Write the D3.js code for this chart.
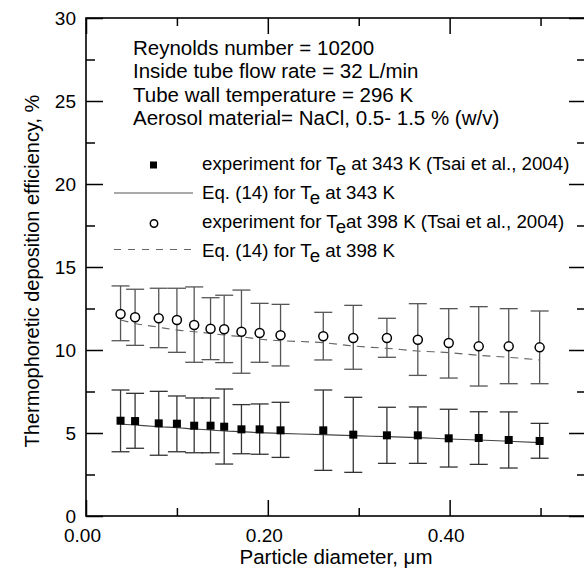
<!DOCTYPE html>
<html>
<head>
<meta charset="utf-8">
<script src="https://cdn.jsdelivr.net/npm/d3@7"></script>
<style>
  body { margin: 0; background: #fff; }
  svg { font-family: "Liberation Sans", Arial, sans-serif; }
</style>
</head>
<body>
<div id="chart"></div>
<script>
// particle diameter (um) for each measurement
var diameters = [0.038, 0.054, 0.080, 0.100, 0.119, 0.137, 0.152, 0.171, 0.191,
                 0.214, 0.261, 0.294, 0.331, 0.365, 0.399, 0.432, 0.465, 0.499];

// experiment, Te = 343 K (mean, upper, lower)
var exp343 = [5.74, 5.72, 5.58, 5.56, 5.44, 5.44, 5.38, 5.22, 5.22, 5.16, 5.16, 4.90, 4.86, 4.86, 4.68, 4.70, 4.58, 4.52];
var exp343Hi = [7.59, 7.39, 7.51, 7.23, 7.11, 7.11, 7.65, 6.71, 6.75, 6.85, 7.59, 7.15, 6.55, 6.57, 6.43, 6.28, 6.27, 5.58];
var exp343Lo = [3.87, 4.08, 3.66, 3.87, 3.81, 3.81, 3.13, 3.75, 3.72, 3.53, 2.75, 2.63, 3.17, 3.17, 2.95, 3.11, 2.89, 3.48];

// experiment, Te = 398 K
var exp398 = [12.17, 11.97, 11.91, 11.81, 11.51, 11.28, 11.25, 11.10, 11.02, 10.89, 10.83, 10.72, 10.72, 10.62, 10.42, 10.22, 10.22, 10.16];
var exp398Hi = [13.86, 13.66, 13.72, 13.72, 13.80, 13.15, 13.30, 13.61, 12.81, 12.75, 12.27, 12.69, 11.91, 12.79, 12.49, 12.61, 12.49, 12.35];
var exp398Lo = [10.56, 10.28, 10.14, 9.86, 9.26, 9.42, 9.24, 8.60, 9.26, 9.04, 9.40, 8.84, 9.56, 8.47, 8.31, 7.83, 7.97, 7.97];

// Eq. (14) curves
var eq343 = [5.54, 5.48, 5.38, 5.32, 5.24, 5.18, 5.12, 5.08, 5.02, 4.98, 4.90, 4.84, 4.78, 4.72, 4.64, 4.58, 4.50, 4.42];
var eq398 = [11.81, 11.60, 11.37, 11.20, 11.10, 11.00, 10.90, 10.80, 10.65, 10.56, 10.44, 10.24, 10.10, 9.94, 9.84, 9.68, 9.56, 9.40];

var yMajor = [0, 5, 10, 15, 20, 25, 30];
var yMinor = [2.5, 7.5, 12.5, 17.5, 22.5, 27.5];
var xMajor = [0, 0.2, 0.4];
var xMinor = [0.1, 0.3, 0.5];

var notes = ["Reynolds number = 10200",
             "Inside tube flow rate = 32 L/min",
             "Tube wall temperature = 296 K",
             "Aerosol material= NaCl, 0.5- 1.5 % (w/v)"];

// legend rows: [before subscript, subscript, after]
var legendRows = [
  ["experiment for T", "e", " at 343 K (Tsai et al., 2004)"],
  ["Eq. (14) for T", "e", " at 343 K"],
  ["experiment for T", "e", "at 398 K (Tsai et al., 2004)"],
  ["Eq. (14) for T", "e", " at 398 K"]
];

var W = 584, H = 576;
var x = d3.scaleLinear().domain([0, 0.55]).range([86, 586]);
var y = d3.scaleLinear().domain([0, 30]).range([516, 18]);

var svg = d3.select("#chart").append("svg")
    .attr("width", W).attr("height", H);

function styleAxis(g) {
  g.select(".domain").remove();
  g.selectAll("line").attr("stroke", "#000").attr("stroke-width", 1.5);
  g.selectAll("text").attr("fill", "#000").style("font-size", "19px")
    .style("font-family", "'Liberation Sans', Arial, sans-serif");
}

// left axis
svg.append("g").attr("transform", "translate(86,0)")
  .call(d3.axisLeft(y).tickValues(yMajor).tickSize(-17).tickPadding(10).tickFormat(d3.format("d")))
  .call(styleAxis);
svg.append("g").attr("transform", "translate(86,0)")
  .call(d3.axisLeft(y).tickValues(yMinor).tickSize(-9).tickFormat(""))
  .call(styleAxis);
// right axis
svg.append("g").attr("transform", "translate(586,0)")
  .call(d3.axisRight(y).tickValues(yMajor).tickSize(-17).tickFormat(""))
  .call(styleAxis);
svg.append("g").attr("transform", "translate(586,0)")
  .call(d3.axisRight(y).tickValues(yMinor).tickSize(-9).tickFormat(""))
  .call(styleAxis);
// bottom axis
svg.append("g").attr("transform", "translate(0,516)")
  .call(d3.axisBottom(x).tickValues(xMajor).tickSize(-16).tickPadding(13).tickFormat(d3.format(".2f")))
  .call(styleAxis)
  .selectAll("text").attr("dx", -4);
svg.append("g").attr("transform", "translate(0,516)")
  .call(d3.axisBottom(x).tickValues(xMinor).tickSize(-8).tickFormat(""))
  .call(styleAxis);
// top axis
svg.append("g").attr("transform", "translate(0,18)")
  .call(d3.axisTop(x).tickValues(xMajor).tickSize(-16).tickFormat(""))
  .call(styleAxis);
svg.append("g").attr("transform", "translate(0,18)")
  .call(d3.axisTop(x).tickValues(xMinor).tickSize(-8).tickFormat(""))
  .call(styleAxis);

// frame
svg.append("rect")
  .attr("x", x(0)).attr("y", y(30))
  .attr("width", x(0.55) - x(0)).attr("height", y(0) - y(30))
  .attr("fill", "none").attr("stroke", "#000").attr("stroke-width", 1.6);

// axis titles
svg.append("text")
  .attr("x", (x(0) + x(0.55)) / 2).attr("y", 564)
  .attr("text-anchor", "middle").style("font-size", "20.5px")
  .text("Particle diameter, \u03bcm");
svg.append("text")
  .attr("transform", "translate(39," + ((y(0) + y(30)) / 2 + 4) + ") rotate(-90)")
  .attr("text-anchor", "middle").style("font-size", "20px")
  .text("Thermophoretic deposition efficiency, %");

// error bars
function errorBars(lo, hi, color) {
  var g = svg.append("g").attr("stroke", color).attr("stroke-width", 1.3).attr("fill", "none");
  diameters.forEach(function (d, i) {
    g.append("line").attr("x1", x(d)).attr("x2", x(d)).attr("y1", y(lo[i])).attr("y2", y(hi[i]));
    g.append("line").attr("x1", x(d) - 9).attr("x2", x(d) + 9).attr("y1", y(lo[i])).attr("y2", y(lo[i]));
    g.append("line").attr("x1", x(d) - 9).attr("x2", x(d) + 9).attr("y1", y(hi[i])).attr("y2", y(hi[i]));
  });
}
errorBars(exp398Lo, exp398Hi, "#555");
errorBars(exp343Lo, exp343Hi, "#333");

// model curves
var line = d3.line().x(function (d) { return x(d[0]); }).y(function (d) { return y(d[1]); })
  .curve(d3.curveMonotoneX);
svg.append("path").datum(d3.zip(diameters, eq343))
  .attr("d", line).attr("fill", "none").attr("stroke", "#444").attr("stroke-width", 1.1);
svg.append("path").datum(d3.zip(diameters, eq398))
  .attr("d", line).attr("fill", "none").attr("stroke", "#666").attr("stroke-width", 1.1)
  .attr("stroke-dasharray", "8,6");

// markers
svg.append("g").selectAll("rect").data(d3.zip(diameters, exp343)).enter()
  .append("rect")
  .attr("x", function (d) { return x(d[0]) - 4; })
  .attr("y", function (d) { return y(d[1]) - 4; })
  .attr("width", 8).attr("height", 8).attr("fill", "#000");
svg.append("g").selectAll("circle").data(d3.zip(diameters, exp398)).enter()
  .append("circle")
  .attr("cx", function (d) { return x(d[0]); })
  .attr("cy", function (d) { return y(d[1]); })
  .attr("r", 4.5).attr("fill", "#fff").attr("stroke", "#000").attr("stroke-width", 1.5);

// notes
svg.append("g").selectAll("text").data(notes).enter()
  .append("text")
  .attr("x", 133)
  .attr("y", function (d, i) { return 55 + i * 23.3; })
  .style("font-size", "20.5px")
  .text(function (d) { return d; });

// legend
var legY = [170, 198.5, 228, 257];
var leg = svg.append("g");
leg.append("rect").attr("x", 150).attr("y", legY[0] - 8.5).attr("width", 7).attr("height", 7).attr("fill", "#000");
leg.append("line").attr("x1", 114).attr("x2", 193).attr("y1", legY[1] - 5.5).attr("y2", legY[1] - 5.5)
  .attr("stroke", "#555").attr("stroke-width", 1.1);
leg.append("circle").attr("cx", 154).attr("cy", legY[2] - 4.5).attr("r", 3.7)
  .attr("fill", "#fff").attr("stroke", "#000").attr("stroke-width", 1.5);
leg.append("line").attr("x1", 114).attr("x2", 193).attr("y1", legY[3] - 7.5).attr("y2", legY[3] - 7.5)
  .attr("stroke", "#666").attr("stroke-width", 1.1).attr("stroke-dasharray", "7,7");

legendRows.forEach(function (r, i) {
  var t = leg.append("text").attr("x", 202).attr("y", legY[i]).style("font-size", "18.7px");
  t.append("tspan").text(r[0]);
  t.append("tspan").attr("dy", 5).text(r[1]);
  t.append("tspan").attr("dy", -5).text(r[2]);
});
</script>
</body>
</html>
